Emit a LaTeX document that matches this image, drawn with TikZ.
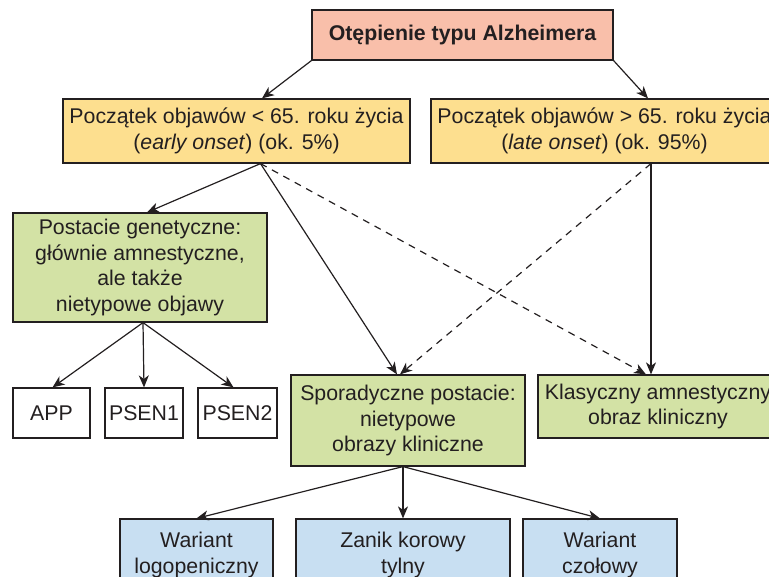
\documentclass[tikz,border=0pt]{standalone}
\usepackage{fontspec}
\setmainfont{Liberation Sans}
\usetikzlibrary{arrows.meta}

\definecolor{salmon}{RGB}{249,191,170}
\definecolor{zolty}{RGB}{253,223,143}
\definecolor{zielony}{RGB}{211,226,165}
\definecolor{niebieski}{RGB}{200,223,242}
\definecolor{ramka}{RGB}{35,31,32}

\begin{document}
\begin{tikzpicture}[x=1pt,y=-1pt,>={Stealth[length=12pt,width=10pt,inset=3.5pt]},line width=1.2pt,
	box/.style={draw=ramka,line width=1.2pt,align=center,inner sep=0pt,text=ramka,font=\fontsize{21.3}{25.5}\selectfont},
	dashline/.style={dash pattern=on 7pt off 6pt}]

\useasboundingbox (0,0) rectangle (769,577);
\clip (0,0) rectangle (769,577);

\node[box,fill=salmon,minimum width=301,minimum height=50,font=\fontsize{21.3}{25.5}\selectfont\bfseries]   (alz) at (462.5,35)   {Otępienie typu Alzheimera};
 \node[box,fill=zolty,minimum width=347,minimum height=64]   (early) at (236.5,131)  {Początek objawów < 65. roku życia\\(\textit{early onset}) (ok. 5\%)};
 \node[box,fill=zolty,minimum width=347,minimum height=64]   (late) at (604.5,131)   {Początek objawów > 65. roku życia\\(\textit{late onset}) (ok. 95\%)};
	\node[box,fill=zielony,minimum width=254,minimum height=109] (gen) at (140,267.5)  {Postacie genetyczne:\\głównie amnestyczne,\\ale także\\nietypowe objawy};
	\node[box,minimum width=77,minimum height=50]   (app) at (51.5,413)   {APP};
	\node[box,minimum width=78,minimum height=50]   (psen1) at (144,413)    {PSEN1};
	\node[box,minimum width=79,minimum height=50]   (psen2) at (237.5,413)  {PSEN2};
	\node[box,fill=zielony,minimum width=234,minimum height=91]  (spor) at (408,420.5)   {Sporadyczne postacie:\\nietypowe\\obrazy kliniczne};
	\node[box,fill=zielony,minimum width=240,minimum height=63]  (klas) at (658,406.5)   {Klasyczny amnestyczny\\obraz kliniczny};
	\node[box,fill=niebieski,minimum width=153,minimum height=72] (logo) at (196.5,555)  {Wariant\\logopeniczny};
	\node[box,fill=niebieski,minimum width=214,minimum height=72] (zanik) at (403,555)   {Zanik korowy\\tylny};
	\node[box,fill=niebieski,minimum width=154,minimum height=72] (czol) at (600,555)    {Wariant\\czołowy};

	\path[->,color=ramka] (alz.south west)  edge  ([xshift=25.5]early.north)
						(alz.south east)  edge  ([xshift=43.5]late.north)

					([xshift=24]early.south) edge  ([xshift=7]gen.north)
								edge  ([xshift=-11]spor.north)
								edge[dashline]  ([xshift=-12]klas.north)

					([xshift=46.5]late.south) edge[dashline]  ([xshift=-8]spor.north)
								edge  ([xshift=-7]klas.north)

					([xshift=3]gen.south) edge  ([xshift=1]app.north)
								edge  (psen1.north)
								edge  ([xshift=-4]psen2.north)

					([xshift=-5]spor.south) edge  (logo.north)
								edge  (zanik.north)
								edge  (czol.north);

	\end{tikzpicture}
\end{document}
